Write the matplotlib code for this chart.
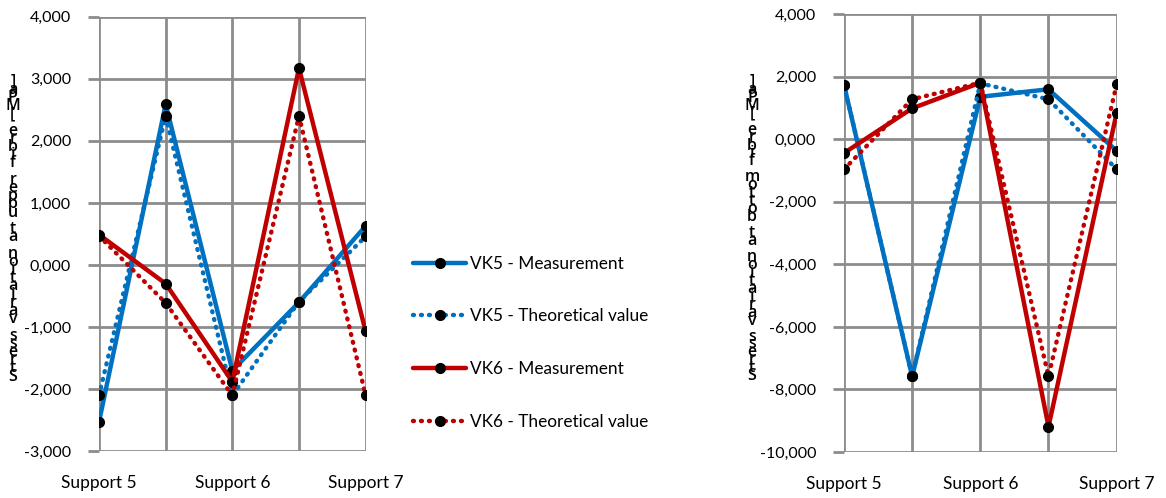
import numpy as np
from matplotlib import pyplot as plt
from matplotlib.ticker import FuncFormatter

plt.rcParams['font.family'] = ['Lato', 'DejaVu Sans']

# Data
positions = ["Support 5", "", "Support 6", "", "Support 7"]
series_names = ["VK5 - Measurement", "VK5 - Theoretical value",
                "VK6 - Measurement", "VK6 - Theoretical value"]

# upper fibre (left chart)
vk5_meas_top = [-2530, 2590, -1700, -600, 630]
vk5_theo_top = [-2100, 2400, -2100, -590, 460]
vk6_meas_top = [490, -300, -1880, 3170, -1070]
vk6_theo_top = [470, -610, -2100, 2400, -2100]

# bottom fibre (right chart)
vk5_meas_bot = [1750, -7580, 1360, 1600, -370]
vk5_theo_bot = [1750, -7580, 1790, 1280, -960]
vk6_meas_bot = [-440, 990, 1810, -9190, 850]
vk6_theo_bot = [-960, 1280, 1810, -7580, 1760]

ylabel_top = "Stress variation at upper fibre [MPa]"
ylabel_bot = "Stress variation at bottom fibre [MPa]"

blue = "#0070C0"
red = "#C00000"
grid_col = "#8C8C8C"

fig = plt.figure(figsize=(11.66, 4.98), dpi=100)
ax1 = fig.add_axes([0.0849, 0.0938, 0.2287, 0.8727])
ax2 = fig.add_axes([0.7238, 0.0924, 0.2339, 0.8790])


def draw(ax, data, ylim, step):
    x = np.arange(len(positions))
    styles = [(blue, "-"), (blue, ":"), (red, "-"), (red, ":")]
    handles = []
    for vals, (col, ls), name in zip(data, styles, series_names):
        kw = dict(color=col, lw=3.2, marker="o", ms=7, mfc="black", mec="black",
                  label=name, zorder=3, solid_capstyle="round")
        if ls == ":":
            h, = ax.plot(x, vals, dashes=(0.2, 1.6), dash_capstyle="round", **kw)
        else:
            h, = ax.plot(x, vals, **kw)
        handles.append(h)
    ax.set_xlim(0, len(positions) - 1)
    ax.set_ylim(*ylim)
    ax.set_yticks(np.arange(ylim[0], ylim[1] + 1, step))
    ax.set_xticks(x)
    ax.set_xticklabels(positions)
    ax.yaxis.set_major_formatter(FuncFormatter(lambda v, p: f"{int(round(v / 1000))},000"))
    ax.grid(True, color=grid_col, lw=2, zorder=0)
    for s in ax.spines.values():
        s.set_visible(False)
    ax.tick_params(axis="y", length=8, width=2, color=grid_col, labelsize=11.5, pad=12)
    ax.tick_params(axis="x", length=0, labelsize=12.5, pad=17)
    return handles


handles = draw(ax1, [vk5_meas_top, vk5_theo_top, vk6_meas_top, vk6_theo_top], (-3000, 4000), 1000)
draw(ax2, [vk5_meas_bot, vk5_theo_bot, vk6_meas_bot, vk6_theo_bot], (-10000, 4000), 2000)

# stacked y labels, drawn upright and bottom-to-top like the source
fig.text(0.011, 0.54, "\n".join(reversed(ylabel_top)), ha="center", va="center",
         fontsize=11.5, family=["Open Sans", "DejaVu Sans"], fontweight="semibold",
         linespacing=0.35)
fig.text(0.645, 0.54, "\n".join(reversed(ylabel_bot)), ha="center", va="center",
         fontsize=11.5, family=["Open Sans", "DejaVu Sans"], fontweight="semibold",
         linespacing=0.33)

fig.legend(handles=handles, loc="center left", bbox_to_anchor=(0.3542, 0.312), frameon=False,
           fontsize=12.4, handlelength=3.08, labelspacing=2.13, handletextpad=0.23,
           borderpad=0, borderaxespad=0)

fig.savefig("out.png", dpi=100)
